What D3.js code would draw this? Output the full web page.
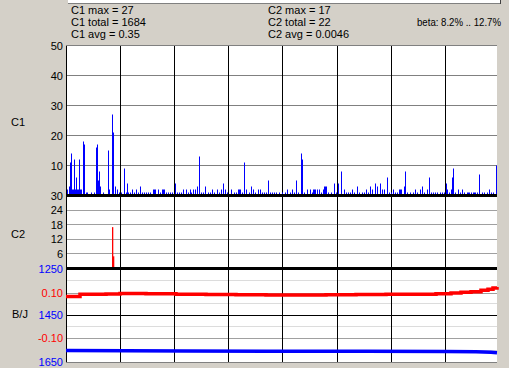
<!DOCTYPE html>
<html>
<head>
<meta charset="utf-8">
<script src="https://d3js.org/d3.v7.min.js"></script>
<style>
  body { margin: 0; background: #d4d0c8; }
  text { font-family: "Liberation Sans", Arial, sans-serif; font-size: 11px; }
</style>
</head>
<body>
<div id="chart"></div>
<script>
// summary lines at the top
var c1Stats = ["C1 max = 27", "C1 total = 1684", "C1 avg = 0.35"];
var c2Stats = ["C2 max = 17", "C2 total = 22", "C2 avg = 0.0046"];
var betaText = "beta: 8.2% .. 12.7%";

// C1 counts: [sample, value]
var c1Bars = [
  [1,2],[3,3],[4,11],[5,14],[6,2],[7,2],[8,12],[9,2],[10,6],[11,2],[12,2],[13,12],[14,2],[15,2],
  [17,18],[18,17],[20,1],[21,1],[25,1],[28,1],[30,16],[31,17],[32,5],[33,8],[34,3],[37,1],
  [42,15],[43,2],[46,27],[47,21],[49,3],[51,2],[53,1],[55,1],[58,9],[60,1],[61,4],[62,1],[64,1],
  [66,2],[68,1],[70,2],[72,1],[74,3],[76,1],[78,1],[80,1],[82,1],[84,1],[87,2],[88,2],[89,2],
  [92,2],[94,1],[96,2],[97,2],[98,2],[100,1],[102,1],[104,1],[106,1],[109,4],[111,1],[113,1],
  [115,1],[117,2],[120,2],[122,1],[124,2],[125,1],[127,2],[129,2],[131,3],[133,13],[135,1],
  [137,1],[139,3],[142,1],[144,1],[146,2],[148,1],[151,2],[153,1],[155,2],[157,4],[159,2],
  [161,1],[165,2],[168,1],[170,1],[172,2],[173,2],[174,2],[176,1],[178,11],[180,2],[183,1],
  [185,3],[187,2],[189,1],[192,2],[194,2],[196,1],[198,1],[200,1],[202,5],[204,1],[206,1],
  [208,1],[210,1],[213,1],[216,1],[219,1],[221,2],[224,1],[226,2],[228,1],[230,5],[232,1],
  [235,14],[236,12],[238,1],[241,2],[244,2],[246,1],[247,2],[248,2],[249,2],[251,2],[253,2],
  [255,1],[257,2],[258,3],[259,3],[260,3],[262,1],[265,1],[268,4],[270,1],[272,4],[275,8],
  [278,2],[280,1],[282,1],[284,1],[286,2],[288,1],[291,3],[293,1],[296,1],[298,1],[300,2],
  [302,1],[304,3],[306,2],[309,4],[311,3],[314,4],[316,2],[318,2],[321,6],[323,1],[325,1],
  [327,2],[329,1],[331,1],[333,2],[334,2],[335,2],[338,3],[339,8],[341,1],[344,1],[347,1],
  [349,2],[351,1],[354,2],[356,3],[358,1],[361,2],[363,6],[365,1],[367,1],[369,1],[371,1],
  [374,1],[376,1],[378,1],[380,4],[381,2],[383,1],[385,2],[386,6],[387,9],[389,1],[392,2],
  [394,1],[396,2],[398,1],[401,1],[402,1],[403,1],[405,1],[407,1],[408,1],[409,1],[411,1],
  [413,7],[416,1],[418,1],[421,1],[423,2],[425,1],[427,1],[430,10]
];

// C2 counts: [sample, value]
var c2Bars = [[46,17],[47,5]];

// B/J lines: [sample, value]
var betaLine = [
  [0,0.084],[13,0.085],[14,0.094],[40,0.096],[54,0.098],[80,0.097],[110,0.095],[140,0.093],
  [170,0.092],[200,0.091],[230,0.091],[260,0.092],[290,0.093],[320,0.094],[350,0.095],
  [370,0.097],[385,0.100],[395,0.103],[405,0.106],[415,0.112],[422,0.117],[427,0.122],[431,0.127]
];
var jLine = [
  [0,1601],[60,1602],[120,1603],[200,1604],[300,1604],[380,1605],[410,1606],[425,1608],[431,1610]
];

// tick labels
var c1Ticks = [10, 20, 30, 40, 50];
var c2Ticks = [6, 12, 18, 24, 30];
var jTicks = [1250, 1450, 1650];
var jLightTicks = [1300, 1400, 1500, 1600];
var betaTicks = [0.10, -0.10];

var W = 509, H = 368;
var left = 66, right = 497;

var svg = d3.select("#chart").append("svg")
  .attr("width", W)
  .attr("height", H);

var x = d3.scaleLinear().domain([0, 431]).range([left, right]);
var yC1 = d3.scaleLinear().domain([0, 50]).range([195.5, 45.5]);
var yC2 = d3.scaleLinear().domain([0, 30]).range([268.5, 195.5]);
var yJ = d3.scaleLinear().domain([1250, 1650]).range([268.5, 362]);
var yB = d3.scaleLinear().domain([-0.2, 0.2]).range([360.5, 270.5]);

function px(v) { return Math.round(v - 0.5) + 0.5; }

svg.append("rect").attr("width", W).attr("height", H).attr("fill", "#d4d0c8");

// bottom edge of the panel above
svg.append("rect").attr("x", 68).attr("y", 0).attr("width", 432).attr("height", 3).attr("fill", "#ffffff");
svg.append("line").attr("x1", 68).attr("x2", 500).attr("y1", 3.5).attr("y2", 3.5).attr("stroke", "#808080");
svg.append("line").attr("x1", 500.5).attr("x2", 500.5).attr("y1", 0).attr("y2", 4).attr("stroke", "#404040");

// plot area
svg.append("rect")
  .attr("x", left).attr("y", 46)
  .attr("width", right - left).attr("height", 362 - 46)
  .attr("fill", "#ffffff");

// horizontal grid
function hline(y, color) {
  svg.append("line")
    .attr("x1", left).attr("x2", right)
    .attr("y1", px(y)).attr("y2", px(y))
    .attr("stroke", color).attr("stroke-width", 1);
}
c1Ticks.forEach(function(t) { hline(yC1(t), "#808080"); });
c2Ticks.slice(0, 4).forEach(function(t) { hline(yC2(t), "#a0a0a0"); });
jLightTicks.forEach(function(t) { hline(yJ(t), "#dcdcdc"); });
betaTicks.forEach(function(t) { hline(yB(t), "#a0a0a0"); });
hline(yJ(1450), "#000000");
hline(362, "#808080");

// vertical grid
var gridStep = 54.2;
d3.range(1, 8).forEach(function(k) {
  var gx = px(x(k * gridStep));
  svg.append("line")
    .attr("x1", gx).attr("x2", gx)
    .attr("y1", 46).attr("y2", 362)
    .attr("stroke", "#000000");
});
svg.append("line")
  .attr("x1", left + 0.5).attr("x2", left + 0.5)
  .attr("y1", 46).attr("y2", 362)
  .attr("stroke", "#000000");

// C1 bars
svg.selectAll("rect.c1").data(c1Bars).enter().append("rect")
  .attr("class", "c1")
  .attr("x", function(d) { return x(d[0]); })
  .attr("width", 1)
  .attr("y", function(d) { return yC1(d[1]); })
  .attr("height", function(d) { return yC1(0) - yC1(d[1]); })
  .attr("fill", "#0000ff");

// C2 bars
svg.selectAll("rect.c2").data(c2Bars).enter().append("rect")
  .attr("class", "c2")
  .attr("x", function(d) { return x(d[0]); })
  .attr("width", 1.3)
  .attr("y", function(d) { return yC2(d[1]); })
  .attr("height", function(d) { return yC2(0) - yC2(d[1]); })
  .attr("fill", "#ff0000");

// thick panel separators
svg.append("rect").attr("x", left).attr("y", 194).attr("width", right - left).attr("height", 3).attr("fill", "#000000");
svg.append("rect").attr("x", left).attr("y", 267).attr("width", right - left).attr("height", 3).attr("fill", "#000000");

// B/J lines
var lineB = d3.line().x(function(d) { return x(d[0]); }).y(function(d) { return yB(d[1]); }).curve(d3.curveStepAfter);
var lineJ = d3.line().x(function(d) { return x(d[0]); }).y(function(d) { return yJ(d[1]); });
svg.append("path").attr("d", lineB(betaLine))
  .attr("fill", "none").attr("stroke", "#ff0000").attr("stroke-width", 3.5);
svg.append("path").attr("d", lineJ(jLine))
  .attr("fill", "none").attr("stroke", "#0000ff").attr("stroke-width", 3.5);

// tick labels
function label(y, txt, color) {
  svg.append("text")
    .text(txt)
    .attr("x", 63).attr("y", y + 4)
    .attr("text-anchor", "end")
    .attr("fill", color);
}
c1Ticks.forEach(function(t) { label(yC1(t), t, "#000000"); });
c2Ticks.forEach(function(t) { label(yC2(t), t, "#000000"); });
jTicks.forEach(function(t) { label(yJ(t), t, "#0000ff"); });
betaTicks.forEach(function(t) { label(yB(t), d3.format(".2f")(t).replace("\u2212", "-"), "#ff0000"); });

// panel names
svg.append("text").text("C1").attr("x", 11).attr("y", 126).attr("fill", "#000000");
svg.append("text").text("C2").attr("x", 11).attr("y", 238).attr("fill", "#000000");
svg.append("text").text("B/J").attr("x", 12).attr("y", 318).attr("fill", "#000000");

// stats
c1Stats.forEach(function(s, i) {
  svg.append("text").text(s).attr("x", 71).attr("y", 14 + i * 12);
});
c2Stats.forEach(function(s, i) {
  svg.append("text").text(s).attr("x", 268).attr("y", 14 + i * 12);
});
svg.append("text").text(betaText)
  .attr("x", 417).attr("y", 26)
  .style("font-size", "10px")
  .attr("textLength", 84)
  .attr("lengthAdjust", "spacingAndGlyphs");
</script>
</body>
</html>
